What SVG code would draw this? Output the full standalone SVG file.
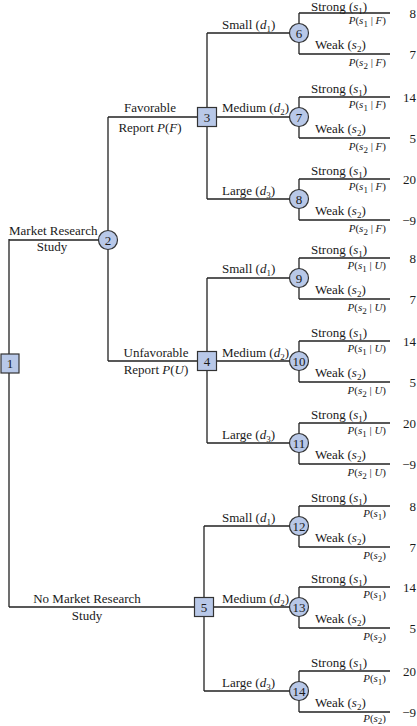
<svg xmlns="http://www.w3.org/2000/svg" width="417" height="726" viewBox="0 0 417 726">
<style>
text{font-family:"Liberation Serif","Times New Roman",serif;font-size:13px;fill:#1a1a1a}
.c{text-anchor:middle}
.e{text-anchor:end}
.p{font-size:11px}
.v{text-anchor:end}
.i{font-style:italic}
.sub{font-size:9px}
.ln{fill:none;stroke:#222;stroke-width:1.3}
.dn{fill:#b8c8e8;stroke:#333;stroke-width:1.2}
</style>
<rect width="417" height="726" fill="#fff"/>
<g id="connectors" class="ln">
<path d="M9,239V607M9,240H99M108,117V361M108,117H198M108,361H198M9,607H195"/>
<path d="M207,33V199M207,33H290M207,117H290M207,199H290"/>
<path d="M207,278V443M207,278H290M207,361H290M207,443H290"/>
<path d="M204,526V691M204,526H290M204,607H290M204,691H290"/>
<path d="M299,13V54M299,13H390M299,54H390"/>
<path d="M299,97V138M299,97H390M299,138H390"/>
<path d="M299,179V220M299,179H390M299,220H390"/>
<path d="M299,258V299M299,258H390M299,299H390"/>
<path d="M299,341V382M299,341H390M299,382H390"/>
<path d="M299,423V464M299,423H390M299,464H390"/>
<path d="M299,506V547M299,506H390M299,547H390"/>
<path d="M299,587V628M299,587H390M299,628H390"/>
<path d="M299,671V712M299,671H390M299,712H390"/>
</g>
<g id="labels">
<text x="9" y="235">Market Research</text>
<text class="c" x="52" y="251">Study</text>
<text class="c" x="150" y="112">Favorable</text>
<text class="c" x="150" y="132">Report <tspan class="i">P</tspan>(<tspan class="i">F</tspan>)</text>
<text class="c" x="156" y="357">Unfavorable</text>
<text class="c" x="156" y="374">Report <tspan class="i">P</tspan>(<tspan class="i">U</tspan>)</text>
<text class="c" x="87" y="603">No Market Research</text>
<text class="c" x="87" y="620">Study</text>
<text x="222" y="29">Small (<tspan class="i">d</tspan><tspan class="sub" dy="3">1</tspan><tspan dy="-3">)</tspan></text>
<text x="222" y="112">Medium (<tspan class="i">d</tspan><tspan class="sub" dy="3">2</tspan><tspan dy="-3">)</tspan></text>
<text x="222" y="195">Large (<tspan class="i">d</tspan><tspan class="sub" dy="3">3</tspan><tspan dy="-3">)</tspan></text>
<text x="222" y="273">Small (<tspan class="i">d</tspan><tspan class="sub" dy="3">1</tspan><tspan dy="-3">)</tspan></text>
<text x="222" y="357">Medium (<tspan class="i">d</tspan><tspan class="sub" dy="3">2</tspan><tspan dy="-3">)</tspan></text>
<text x="222" y="439">Large (<tspan class="i">d</tspan><tspan class="sub" dy="3">3</tspan><tspan dy="-3">)</tspan></text>
<text x="222" y="522">Small (<tspan class="i">d</tspan><tspan class="sub" dy="3">1</tspan><tspan dy="-3">)</tspan></text>
<text x="222" y="603">Medium (<tspan class="i">d</tspan><tspan class="sub" dy="3">2</tspan><tspan dy="-3">)</tspan></text>
<text x="222" y="687">Large (<tspan class="i">d</tspan><tspan class="sub" dy="3">3</tspan><tspan dy="-3">)</tspan></text>
</g>
<g id="outcomes">
<!-- node 6 -->
<text x="311" y="10.5">Strong (<tspan class="i">s</tspan><tspan class="sub" dy="3">1</tspan><tspan dy="-3">)</tspan></text>
<text class="e p" x="386" y="24"><tspan class="i">P</tspan>(<tspan class="i">s</tspan><tspan class="sub" dy="3">1</tspan><tspan dy="-3"> | </tspan><tspan class="i">F</tspan>)</text>
<text x="315" y="49">Weak (<tspan class="i">s</tspan><tspan class="sub" dy="3">2</tspan><tspan dy="-3">)</tspan></text>
<text class="e p" x="386" y="66"><tspan class="i">P</tspan>(<tspan class="i">s</tspan><tspan class="sub" dy="3">2</tspan><tspan dy="-3"> | </tspan><tspan class="i">F</tspan>)</text>
<text class="v" x="416" y="17.5">8</text>
<text class="v" x="416" y="58.5">7</text>
<!-- node 7 -->
<text x="311" y="93">Strong (<tspan class="i">s</tspan><tspan class="sub" dy="3">1</tspan><tspan dy="-3">)</tspan></text>
<text class="e p" x="386" y="108"><tspan class="i">P</tspan>(<tspan class="i">s</tspan><tspan class="sub" dy="3">1</tspan><tspan dy="-3"> | </tspan><tspan class="i">F</tspan>)</text>
<text x="315" y="133">Weak (<tspan class="i">s</tspan><tspan class="sub" dy="3">2</tspan><tspan dy="-3">)</tspan></text>
<text class="e p" x="386" y="150"><tspan class="i">P</tspan>(<tspan class="i">s</tspan><tspan class="sub" dy="3">2</tspan><tspan dy="-3"> | </tspan><tspan class="i">F</tspan>)</text>
<text class="v" x="416" y="101.5">14</text>
<text class="v" x="416" y="142.5">5</text>
<!-- node 8 -->
<text x="311" y="175">Strong (<tspan class="i">s</tspan><tspan class="sub" dy="3">1</tspan><tspan dy="-3">)</tspan></text>
<text class="e p" x="386" y="190"><tspan class="i">P</tspan>(<tspan class="i">s</tspan><tspan class="sub" dy="3">1</tspan><tspan dy="-3"> | </tspan><tspan class="i">F</tspan>)</text>
<text x="315" y="215">Weak (<tspan class="i">s</tspan><tspan class="sub" dy="3">2</tspan><tspan dy="-3">)</tspan></text>
<text class="e p" x="386" y="232"><tspan class="i">P</tspan>(<tspan class="i">s</tspan><tspan class="sub" dy="3">2</tspan><tspan dy="-3"> | </tspan><tspan class="i">F</tspan>)</text>
<text class="v" x="416" y="183.5">20</text>
<text class="v" x="416" y="224.5">−9</text>
<!-- node 9 -->
<text x="311" y="254">Strong (<tspan class="i">s</tspan><tspan class="sub" dy="3">1</tspan><tspan dy="-3">)</tspan></text>
<text class="e p" x="386" y="269"><tspan class="i">P</tspan>(<tspan class="i">s</tspan><tspan class="sub" dy="3">1</tspan><tspan dy="-3"> | </tspan><tspan class="i">U</tspan>)</text>
<text x="315" y="294">Weak (<tspan class="i">s</tspan><tspan class="sub" dy="3">2</tspan><tspan dy="-3">)</tspan></text>
<text class="e p" x="386" y="311"><tspan class="i">P</tspan>(<tspan class="i">s</tspan><tspan class="sub" dy="3">2</tspan><tspan dy="-3"> | </tspan><tspan class="i">U</tspan>)</text>
<text class="v" x="416" y="262.5">8</text>
<text class="v" x="416" y="303.5">7</text>
<!-- node 10 -->
<text x="311" y="337">Strong (<tspan class="i">s</tspan><tspan class="sub" dy="3">1</tspan><tspan dy="-3">)</tspan></text>
<text class="e p" x="386" y="352"><tspan class="i">P</tspan>(<tspan class="i">s</tspan><tspan class="sub" dy="3">1</tspan><tspan dy="-3"> | </tspan><tspan class="i">U</tspan>)</text>
<text x="315" y="377">Weak (<tspan class="i">s</tspan><tspan class="sub" dy="3">2</tspan><tspan dy="-3">)</tspan></text>
<text class="e p" x="386" y="394"><tspan class="i">P</tspan>(<tspan class="i">s</tspan><tspan class="sub" dy="3">2</tspan><tspan dy="-3"> | </tspan><tspan class="i">U</tspan>)</text>
<text class="v" x="416" y="345.5">14</text>
<text class="v" x="416" y="386.5">5</text>
<!-- node 11 -->
<text x="311" y="419">Strong (<tspan class="i">s</tspan><tspan class="sub" dy="3">1</tspan><tspan dy="-3">)</tspan></text>
<text class="e p" x="386" y="434"><tspan class="i">P</tspan>(<tspan class="i">s</tspan><tspan class="sub" dy="3">1</tspan><tspan dy="-3"> | </tspan><tspan class="i">U</tspan>)</text>
<text x="315" y="459">Weak (<tspan class="i">s</tspan><tspan class="sub" dy="3">2</tspan><tspan dy="-3">)</tspan></text>
<text class="e p" x="386" y="476"><tspan class="i">P</tspan>(<tspan class="i">s</tspan><tspan class="sub" dy="3">2</tspan><tspan dy="-3"> | </tspan><tspan class="i">U</tspan>)</text>
<text class="v" x="416" y="427.5">20</text>
<text class="v" x="416" y="468.5">−9</text>
<!-- node 12 -->
<text x="311" y="502">Strong (<tspan class="i">s</tspan><tspan class="sub" dy="3">1</tspan><tspan dy="-3">)</tspan></text>
<text class="e p" x="386" y="517"><tspan class="i">P</tspan>(<tspan class="i">s</tspan><tspan class="sub" dy="3">1</tspan><tspan dy="-3">)</tspan></text>
<text x="315" y="542">Weak (<tspan class="i">s</tspan><tspan class="sub" dy="3">2</tspan><tspan dy="-3">)</tspan></text>
<text class="e p" x="386" y="559"><tspan class="i">P</tspan>(<tspan class="i">s</tspan><tspan class="sub" dy="3">2</tspan><tspan dy="-3">)</tspan></text>
<text class="v" x="416" y="510.5">8</text>
<text class="v" x="416" y="551.5">7</text>
<!-- node 13 -->
<text x="311" y="583">Strong (<tspan class="i">s</tspan><tspan class="sub" dy="3">1</tspan><tspan dy="-3">)</tspan></text>
<text class="e p" x="386" y="598"><tspan class="i">P</tspan>(<tspan class="i">s</tspan><tspan class="sub" dy="3">1</tspan><tspan dy="-3">)</tspan></text>
<text x="315" y="623">Weak (<tspan class="i">s</tspan><tspan class="sub" dy="3">2</tspan><tspan dy="-3">)</tspan></text>
<text class="e p" x="386" y="640"><tspan class="i">P</tspan>(<tspan class="i">s</tspan><tspan class="sub" dy="3">2</tspan><tspan dy="-3">)</tspan></text>
<text class="v" x="416" y="591.5">14</text>
<text class="v" x="416" y="632.5">5</text>
<!-- node 14 -->
<text x="311" y="667">Strong (<tspan class="i">s</tspan><tspan class="sub" dy="3">1</tspan><tspan dy="-3">)</tspan></text>
<text class="e p" x="386" y="682"><tspan class="i">P</tspan>(<tspan class="i">s</tspan><tspan class="sub" dy="3">1</tspan><tspan dy="-3">)</tspan></text>
<text x="315" y="707">Weak (<tspan class="i">s</tspan><tspan class="sub" dy="3">2</tspan><tspan dy="-3">)</tspan></text>
<text class="e p" x="386" y="722"><tspan class="i">P</tspan>(<tspan class="i">s</tspan><tspan class="sub" dy="2">2</tspan><tspan dy="-2">)</tspan></text>
<text class="v" x="416" y="675.5">20</text>
<text class="v" x="416" y="716.5">−9</text>
</g>
<g id="node1"><rect class="dn" x="1" y="354" width="18" height="19"/><text class="c" x="10" y="368">1</text></g>
<g id="node2"><circle class="dn" cx="108" cy="240" r="9.5"/><text class="c" x="108" y="244.5">2</text></g>
<g id="node3"><rect class="dn" x="197.5" y="107.5" width="19" height="19"/><text class="c" x="207" y="121.5">3</text></g>
<g id="node4"><rect class="dn" x="197.5" y="351.5" width="19" height="19"/><text class="c" x="207" y="365.5">4</text></g>
<g id="node5"><rect class="dn" x="194.5" y="597.5" width="19" height="19"/><text class="c" x="204" y="611.5">5</text></g>
<g id="node6"><circle class="dn" cx="299" cy="33" r="9.5"/><text class="c" x="299" y="37.5">6</text></g>
<g id="node7"><circle class="dn" cx="299" cy="117" r="9.5"/><text class="c" x="299" y="121.5">7</text></g>
<g id="node8"><circle class="dn" cx="299" cy="199" r="9.5"/><text class="c" x="299" y="203.5">8</text></g>
<g id="node9"><circle class="dn" cx="299" cy="278" r="9.5"/><text class="c" x="299" y="282.5">9</text></g>
<g id="node10"><circle class="dn" cx="299" cy="361" r="9.5"/><text class="c" x="299" y="365.5">10</text></g>
<g id="node11"><circle class="dn" cx="299" cy="443" r="9.5"/><text class="c" x="299" y="447.5">11</text></g>
<g id="node12"><circle class="dn" cx="299" cy="526" r="9.5"/><text class="c" x="299" y="530.5">12</text></g>
<g id="node13"><circle class="dn" cx="299" cy="607" r="9.5"/><text class="c" x="299" y="611.5">13</text></g>
<g id="node14"><circle class="dn" cx="299" cy="691" r="9.5"/><text class="c" x="299" y="695.5">14</text></g>
</svg>
